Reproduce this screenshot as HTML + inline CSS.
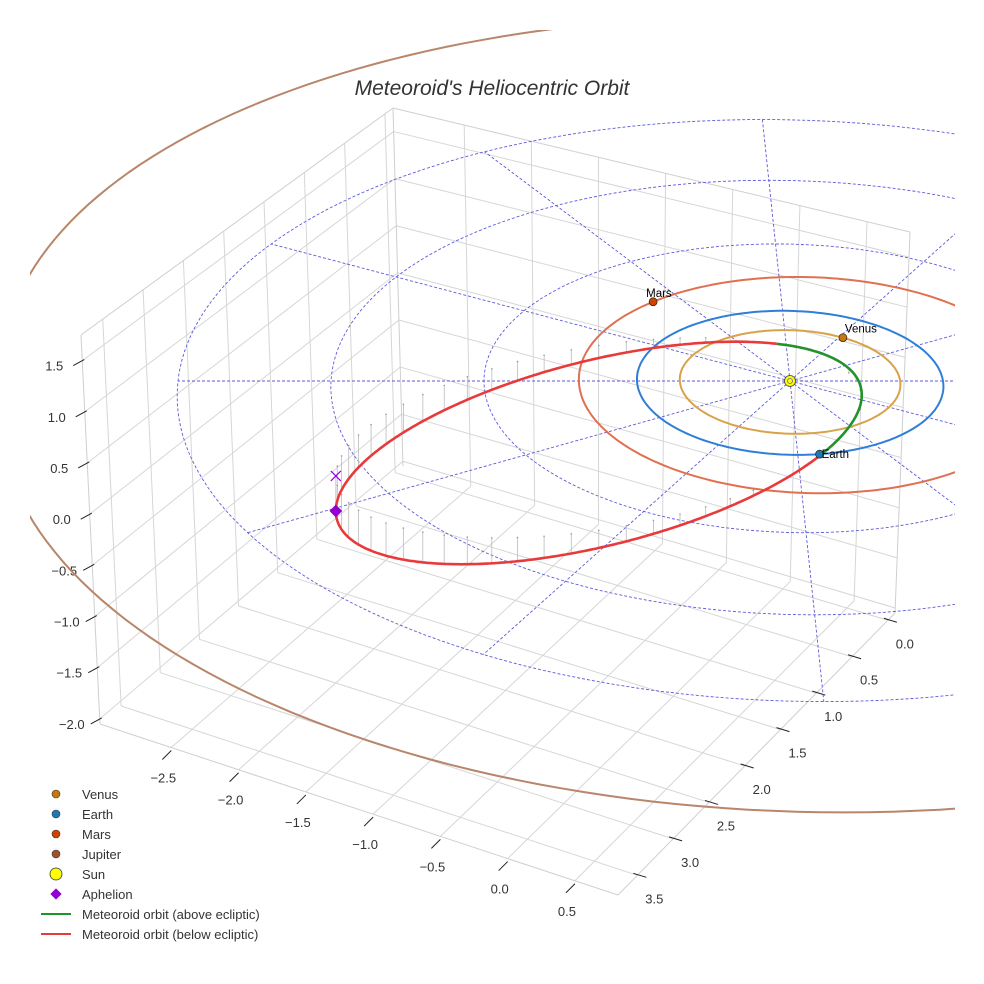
<!DOCTYPE html>
<html><head><meta charset="utf-8"><style>
html,body{margin:0;padding:0;background:#fff;}
svg{display:block;font-family:"Liberation Sans",sans-serif;}
</style></head><body>
<svg id="chart" width="984" height="984" viewBox="0 0 984 984">
<defs><clipPath id="clip"><rect x="30" y="30" width="925" height="940"/></clipPath></defs>
<text x="492" y="95" text-anchor="middle" font-size="21" font-style="italic" fill="#333">Meteoroid's Heliocentric Orbit</text>
<g id="axes"></g>
<g id="data" clip-path="url(#clip)"></g>
<g id="legend"></g>
</svg>
<script>
// ---- data ----
const xTicks = [-2.5, -2.0, -1.5, -1.0, -0.5, 0.0, 0.5];
const yTicks = [0.0, 0.5, 1.0, 1.5, 2.0, 2.5, 3.0, 3.5];
const zTicks = [-2.0, -1.5, -1.0, -0.5, 0.0, 0.5, 1.0, 1.5];
const planetNames = ["Venus", "Earth", "Mars", "Jupiter"];
const planetRadii = [0.72, 1.0, 1.5, 5.2];
const planetCenterX = [0, 0, 0.12, 0.05];
const planetAnglesDeg = [-58, 82, -131, -15];
const planetOrbitColors = ["#d9a24a", "#2f7fd8", "#e07050", "#b8866a"];
const planetMarkerColors = ["#c8780a", "#1f77b4", "#cc4400", "#a0522d"];
const planetLabeled = [true, true, true, false];
const ringRadii = [1, 2, 3, 4];
const radialAnglesDeg = [0, 30, 60, 90, 120, 150, 180, 210, 240, 270, 300, 330];
const radialLength = 4;
// meteoroid orbit (ecliptic frame conjugate semi-axes) and z coefficients
const orbitCenter = [-1.289, 0.789];
const orbitAxisA = [-1.745, 0.530];
const orbitAxisB = [0.064, -1.285];
const orbitZ = [-0.1517, -0.1983, 0.0245]; // z0, z*cos, z*sin

const NS = "http://www.w3.org/2000/svg";
function mk(tag, attrs, parent){const e=document.createElementNS(NS,tag);for(const k in attrs)e.setAttribute(k,attrs[k]);parent.appendChild(e);return e;}
const axes = document.getElementById('axes');
const dataG = document.getElementById('data');
const legend = document.getElementById('legend');

// ---- axis box (screen corners) ----
const L={x:100,y:724}, B={x:403,y:466}, F={x:618,y:895}, R={x:895,y:613};
const LT={x:81,y:335}, BT={x:393,y:108}, RT={x:910,y:232};
const xMin=-3.03, xMax=0.82, yMin=-0.1, yMax=3.77, zMin=-2.05, zMax=1.75;
function lerp(p,q,f){return {x:p.x+(q.x-p.x)*f, y:p.y+(q.y-p.y)*f};}
function line(p,q,attrs,parent,name){const e=mk('line',Object.assign({x1:p.x,y1:p.y,x2:q.x,y2:q.y},attrs),parent);
  
  return e;}
const gridA={stroke:'#d6d6d6','stroke-width':1};
zTicks.forEach(z=>{const f=(z-zMin)/(zMax-zMin);
  const a=lerp(L,LT,f), b=lerp(B,BT,f), c=lerp(R,RT,f);
  line(a,b,gridA,axes,'z-grid-left'); line(b,c,gridA,axes,'z-grid-right');});
yTicks.forEach(y=>{const f=(y-yMin)/(yMax-yMin);
  const p=lerp(R,F,f), q=lerp(B,L,f), qt=lerp(BT,LT,f);
  line(p,q,gridA,axes,'y-grid-floor'); line(q,qt,gridA,axes,'y-grid-wall');});
xTicks.forEach(x=>{const f=(x-xMin)/(xMax-xMin);
  const p=lerp(L,F,f), q=lerp(B,R,f), qt=lerp(BT,RT,f);
  line(p,q,gridA,axes,'x-grid-floor'); line(q,qt,gridA,axes,'x-grid-wall');});
const edgeA={stroke:'#cfcfcf','stroke-width':1};
[[L,F],[F,R],[L,LT],[LT,BT],[BT,RT],[RT,R],[B,BT]].forEach(e=>line(e[0],e[1],edgeA,axes,'axis-edge'));
function label(txt,x,y,name){const t=mk('text',{x:x,y:y,'text-anchor':'middle','font-size':13,fill:'#333'},axes);t.textContent=txt;
  
  }
function fmt(v){return (v<0?'\u2212':'')+Math.abs(v).toFixed(1);}
zTicks.forEach(z=>{const f=(z-zMin)/(zMax-zMin);const p=lerp(L,LT,f);
  line({x:p.x+2,y:p.y-1},{x:p.x-9,y:p.y+5},{stroke:'#222','stroke-width':1},axes,'z-tick');
  label(fmt(z),p.x-28,p.y+10,'z-tick-label');});
xTicks.forEach(x=>{const f=(x-xMin)/(xMax-xMin);const p=lerp(L,F,f);
  line({x:p.x,y:p.y+3},{x:p.x-9,y:p.y+12},{stroke:'#222','stroke-width':1},axes,'x-tick');
  label(fmt(x),p.x-8,p.y+35,'x-tick-label');});
yTicks.forEach(y=>{const f=(y-yMin)/(yMax-yMin);const p=lerp(R,F,f);
  line({x:p.x-4,y:p.y-2},{x:p.x+9,y:p.y+2},{stroke:'#222','stroke-width':1},axes,'y-tick');
  label(fmt(y),p.x+17,p.y+28,'y-tick-label');});

// ---- projection of ecliptic data ----
const SUN={x:790,y:381}, UA={x:153,y:0}, UB={x:7.6,y:72}, ZS=100, QF=0.0254, QB_JUP=0.005;
function proj(a,b,z,persp,qBack){const qb=(qBack===undefined)?QF:qBack;
  const k=persp?(b>0?1/(1-QF*b):1/(1-qb*b)):1;
  return {x:SUN.x+(UA.x*a+UB.x*b)*k, y:SUN.y+(UA.y*a+UB.y*b)*k - ZS*z};}
function pathFrom(pts){return pts.map((p,i)=>(i?'L':'M')+p.x.toFixed(1)+','+p.y.toFixed(1)).join(' ');}
function circlePts(r,cx,persp,qBack){const pts=[];for(let i=0;i<=240;i++){const t=i/240*2*Math.PI;pts.push(proj(cx+r*Math.cos(t),r*Math.sin(t),0,persp,qBack));}return pts;}

ringRadii.forEach(r=>{const e=mk('path',{d:pathFrom(circlePts(r,0,true)),fill:'none',stroke:'#5b5bdc','stroke-width':0.9,'stroke-dasharray':'3,2'},dataG);
  
  });
radialAnglesDeg.forEach(d=>{const t=d*Math.PI/180;const p=proj(0,0,0,true),q=proj(radialLength*Math.cos(t),radialLength*Math.sin(t),0,true);
  line(p,q,{stroke:'#5b5bdc','stroke-width':0.9,'stroke-dasharray':'3,2'},dataG,'ecliptic-radial');});
planetRadii.forEach((r,i)=>{const qb=planetNames[i]==='Jupiter'?QB_JUP:QF;
  const e=mk('path',{d:pathFrom(circlePts(r,planetCenterX[i],true,qb)),fill:'none',stroke:planetOrbitColors[i],'stroke-width':2},dataG);
  
  });

function orbitPt(t){const c=Math.cos(t),s=Math.sin(t);
  return {a:orbitCenter[0]+orbitAxisA[0]*c+orbitAxisB[0]*s, b:orbitCenter[1]+orbitAxisA[1]*c+orbitAxisB[1]*s, z:orbitZ[0]+orbitZ[1]*c+orbitZ[2]*s};}
for(let i=0;i<60;i++){const o=orbitPt(i/60*2*Math.PI);if(Math.abs(o.z)<0.04)continue;
  const p=proj(o.a,o.b,o.z,false),q=proj(o.a,o.b,0,false);
  line(p,q,{stroke:'#bbbbbb','stroke-width':0.8},dataG,'ecliptic-stem');
  const d=mk('circle',{cx:q.x,cy:q.y,r:0.8,fill:'#999'},dataG);
  
  }
let seg=[],sign=null;const N=600;
function flush(){if(seg.length>1){const e=mk('path',{d:pathFrom(seg),fill:'none',stroke:sign>0?'#22922a':'#e83a3a','stroke-width':2.6},dataG);
  
  }}
for(let i=0;i<=N;i++){const o=orbitPt(i/N*2*Math.PI);const sg=o.z>=0?1:-1;const p=proj(o.a,o.b,o.z,false);
  if(sign!==null&&sg!==sign){seg.push(p);flush();seg=[p];}else seg.push(p);sign=sg;}
flush();

const ap=orbitPt(0);const apP=proj(ap.a,ap.b,ap.z,false),apE=proj(ap.a,ap.b,0,false);
const dia=mk('rect',{x:apP.x-4.5,y:apP.y-4.5,width:9,height:9,fill:'#9400d3',transform:`rotate(45 ${apP.x} ${apP.y})`},dataG);


line({x:apE.x-5,y:apE.y-5},{x:apE.x+5,y:apE.y+5},{stroke:'#9400d3','stroke-width':1.2},dataG,'aphelion-projection');
line({x:apE.x-5,y:apE.y+5},{x:apE.x+5,y:apE.y-5},{stroke:'#9400d3','stroke-width':1.2},dataG,'aphelion-projection');

planetNames.forEach((n,i)=>{const t=planetAnglesDeg[i]*Math.PI/180;const r=planetRadii[i];
  const qb=n==='Jupiter'?QB_JUP:QF;
  const p=proj(planetCenterX[i]+r*Math.cos(t),r*Math.sin(t),0,true,qb);
  const c=mk('circle',{cx:p.x,cy:p.y,r:4,fill:planetMarkerColors[i],stroke:'#222','stroke-width':0.7},dataG);
  
  
  if(planetLabeled[i]){const tx=mk('text',{x:p.x+(n==='Mars'?-7:2),y:p.y-(n==='Earth'?-4:5),'font-size':11.5,fill:'#000'},dataG);tx.textContent=n;
    
    }});
const sp=proj(0,0,0,true);
const sun=mk('circle',{cx:sp.x,cy:sp.y,r:5.5,fill:'#ffff00',stroke:'#444','stroke-width':0.8},dataG);


const sunIn=mk('circle',{cx:sp.x,cy:sp.y,r:2.5,fill:'none',stroke:'#6a5acd','stroke-width':0.8},dataG);



const legendLabels=["Venus","Earth","Mars","Jupiter","Sun","Aphelion","Meteoroid orbit (above ecliptic)","Meteoroid orbit (below ecliptic)"];
legendLabels.forEach((lab,i)=>{const y=794+i*20;const g=mk('g',{},legend);
  
  
  if(i<4) mk('circle',{cx:56,cy:y,r:4,fill:planetMarkerColors[i],stroke:'#333','stroke-width':0.6},g);
  else if(i===4) mk('circle',{cx:56,cy:y,r:6,fill:'#ffff00',stroke:'#333','stroke-width':0.8},g);
  else if(i===5) mk('rect',{x:52,y:y-4,width:8,height:8,fill:'#9400d3',transform:`rotate(45 56 ${y})`},g);
  else mk('line',{x1:41,y1:y,x2:71,y2:y,stroke:i===6?'#22922a':'#e83a3a','stroke-width':2},g);
  const t=mk('text',{x:82,y:y+5,'font-size':13,fill:'#333'},g);t.textContent=lab;});
</script>
</body></html>
